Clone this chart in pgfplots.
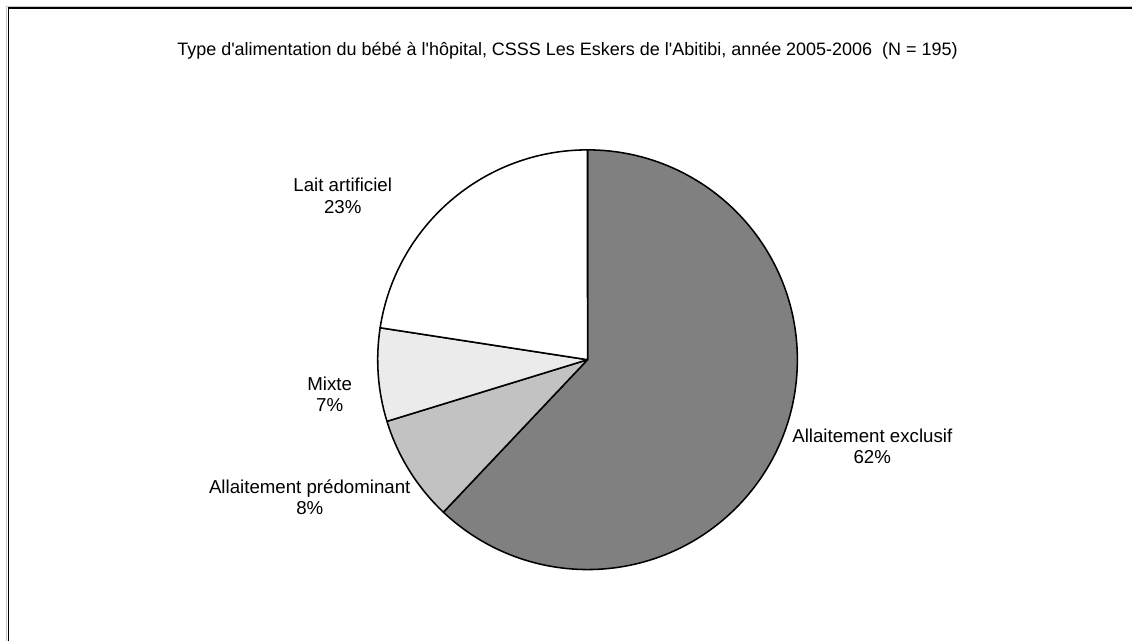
\documentclass[border=0pt]{standalone}
\usepackage{fontspec}
\setmainfont{Liberation Sans}
\usepackage{pgfplots}
\pgfplotsset{compat=1.18}
\usepackage{pgfplotstable}

% effectifs (N = 195), ordre Excel : depuis midi, sens horaire
\pgfplotstableread{
type n
exclusif 121
predominant 16
mixte 14
artificiel 44
}\pietable

\newcommand\lbl{\fontsize{13.3}{15}\selectfont}
\newcommand\q{\textquotesingle}

\begin{document}
\begin{tikzpicture}
\pgfplotstablegetelem{0}{n}\of\pietable \let\nA\pgfplotsretval
\pgfplotstablegetelem{1}{n}\of\pietable \let\nB\pgfplotsretval
\pgfplotstablegetelem{2}{n}\of\pietable \let\nC\pgfplotsretval
\pgfplotstablegetelem{3}{n}\of\pietable \let\nD\pgfplotsretval
\pgfmathsetmacro\nTot{\nA+\nB+\nC+\nD}
\pgfmathsetmacro\aA{90}
\pgfmathsetmacro\aB{\aA-360*(\nA/\nTot)}
\pgfmathsetmacro\aC{\aB-360*(\nB/\nTot)}
\pgfmathsetmacro\aD{\aC-360*(\nC/\nTot)}
\pgfmathsetmacro\aE{\aD-360*(\nD/\nTot)}
\def\rad{52.5mm}
\begin{axis}[
  x=0.25mm, y=0.25mm,
  xmin=0, xmax=1133, ymin=0, ymax=642,
  hide axis, clip=false,
]
  \path[fill=white] (axis cs:0,0) rectangle (axis cs:1133,642);
  % cadre
  \draw[gray!45, line width=0.6pt] (axis cs:6.5,0) -- (axis cs:6.5,635.5) -- (axis cs:1133,635.5);
  \draw[black, line width=1.3pt] (axis cs:8.5,0) -- (axis cs:8.5,634) -- (axis cs:1133,634);
  % titre
  \node[font=\fontsize{12.8}{14}\selectfont] at (axis cs:568,591)
    {Type d\q alimentation du bébé à l\q hôpital, CSSS Les Eskers de l\q Abitibi, année 2005-2006~~(N = 195)};
  % secteurs
  \filldraw[fill=black!50, draw=black, line width=1.1pt, line join=round]
    (axis cs:588,282) -- +(\aA:\rad) arc[start angle=\aA, end angle=\aB, radius=\rad] -- cycle;
  \filldraw[fill=black!24, draw=black, line width=1.1pt, line join=round]
    (axis cs:588,282) -- +(\aB:\rad) arc[start angle=\aB, end angle=\aC, radius=\rad] -- cycle;
  \filldraw[fill=black!8, draw=black, line width=1.1pt, line join=round]
    (axis cs:588,282) -- +(\aC:\rad) arc[start angle=\aC, end angle=\aD, radius=\rad] -- cycle;
  \filldraw[fill=white, draw=black, line width=1.1pt, line join=round]
    (axis cs:588,282) -- +(\aD:\rad) arc[start angle=\aD, end angle=\aE, radius=\rad] -- cycle;
  % étiquettes
  \node[font=\lbl, align=center] at (axis cs:873,195) {Allaitement exclusif\\62\%};
  \node[font=\lbl, align=center] at (axis cs:310,144) {Allaitement prédominant\\8\%};
  \node[font=\lbl, align=center] at (axis cs:330,247) {Mixte\\7\%};
  \node[font=\lbl, align=center] at (axis cs:343,446) {Lait artificiel\\23\%};
\end{axis}
\end{tikzpicture}
\end{document}
